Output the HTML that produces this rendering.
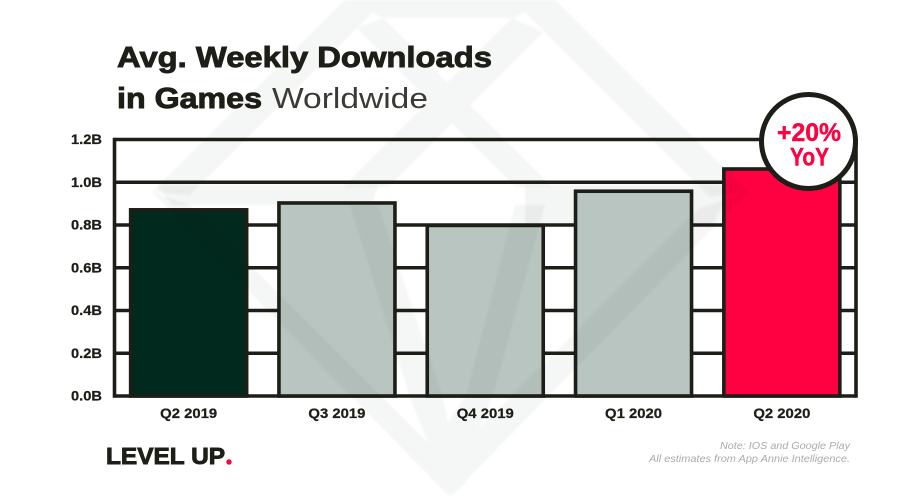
<!DOCTYPE html>
<html lang="en">
<head>
<meta charset="utf-8">
<title>Avg. Weekly Downloads in Games Worldwide</title>
<style>
html,body{margin:0;padding:0;background:#fff;}
#stage{display:block;width:900px;height:500px;background:#fff;font-family:"Liberation Sans",Arial,sans-serif;}
.ink{fill:#1d1e17;}
.heavy{font-weight:700;stroke:#1d1e17;stroke-width:.9px;paint-order:stroke;}
.tick{font-size:13.5px;font-weight:700;fill:#1d1e17;text-anchor:end;stroke:#1d1e17;stroke-width:.25px;}
.cat{font-size:13.5px;font-weight:700;fill:#1d1e17;text-anchor:middle;stroke:#1d1e17;stroke-width:.25px;}
.note{font-size:10.5px;font-style:italic;fill:#a9abaa;text-anchor:end;}
.badge-text{font-size:25px;font-weight:700;fill:#ff0040;text-anchor:middle;stroke:#ff0040;stroke-width:.4px;}
</style>
</head>
<body>
<svg id="stage" xmlns="http://www.w3.org/2000/svg" width="900" height="500" viewBox="0 0 900 500">
  <defs>
    <filter id="soften" x="-5%" y="-5%" width="110%" height="110%"><feGaussianBlur stdDeviation="1"/></filter>
  </defs>
  <g fill="#f4f5f5" filter="url(#soften)">
    <polygon points="157,185 378,185 372,205 172,205"/>
    <polygon points="525,185 735,185 712,225 525,225"/>
  </g>
  <g id="grid"></g>
  <g id="bars"></g>
  <g id="axes"></g>

  <g fill="#f5f6f6" filter="url(#soften)" style="mix-blend-mode:multiply">
    <polygon points="345,0 385,0 190,195 152,192"/>
    <polygon points="555,0 513,0 710,197 748,192"/>
    <polygon points="152,192 190,205 467,482 450,497"/>
    <polygon points="748,192 700,208 433,475 450,497"/>
    <polygon points="345,0 555,0 512,18 383,18"/>
    <polygon points="383,18 552,187 516,187 357,28"/>
    <polygon points="512,18 543,32 388,187 343,187"/>
    <polygon points="350,205 378,205 443,398 448,423 450,497 410,398"/>
    <polygon points="515,205 545,205 493,395 450,497 448,423 467,393"/>
  </g>

  <g>
    <text x="117" y="67" font-size="29" class="ink heavy" textLength="375" lengthAdjust="spacingAndGlyphs">Avg. Weekly Downloads</text>
    <text x="117" y="108" font-size="29" class="ink heavy" textLength="145" lengthAdjust="spacingAndGlyphs">in Games</text>
    <text x="272" y="108" font-size="29" fill="#3a3b35" textLength="156" lengthAdjust="spacingAndGlyphs">Worldwide</text>
  </g>

  <g>
    <circle cx="808.5" cy="141.5" r="47" fill="#fff" stroke="#1d1e17" stroke-width="5"/>
    <text x="809" y="141" class="badge-text" textLength="64" lengthAdjust="spacingAndGlyphs">+20%</text>
    <text x="809.5" y="165.5" class="badge-text" textLength="39" lengthAdjust="spacingAndGlyphs">YoY</text>
  </g>

  <g>
    <text x="106" y="464" font-size="23.5" class="ink heavy" textLength="119" lengthAdjust="spacingAndGlyphs">LEVEL UP</text>
    <circle cx="229" cy="462" r="2.7" fill="#ff0040"/>
  </g>

  <g>
    <text x="850" y="449" class="note" textLength="130" lengthAdjust="spacingAndGlyphs">Note: IOS and Google Play</text>
    <text x="850" y="462" class="note" textLength="201" lengthAdjust="spacingAndGlyphs">All estimates from App Annie Intelligence.</text>
  </g>
</svg>
<script>
const categories = ['Q2 2019', 'Q3 2019', 'Q4 2019', 'Q1 2020', 'Q2 2020'];
const downloads = [0.871, 0.903, 0.798, 0.958, 1.062];
const tickValues = [0, 0.2, 0.4, 0.6, 0.8, 1.0, 1.2];
const tickLabels = ['0.0B', '0.2B', '0.4B', '0.6B', '0.8B', '1.0B', '1.2B'];

const NS = 'http://www.w3.org/2000/svg';
const INK = '#1d1e17';
const plotLeft = 114.5, plotRight = 856, plotBottom = 396, plotTop = 139.5, yMax = 1.2;
const bandWidth = (plotRight - plotLeft) / categories.length;
const barWidth = 116;

function yScale(v) { return plotBottom - (v / yMax) * (plotBottom - plotTop); }
function xCenter(i) { return plotLeft + bandWidth * (i + 0.5); }
function make(tag, attrs) {
  const el = document.createElementNS(NS, tag);
  for (const k in attrs) el.setAttribute(k, attrs[k]);
  return el;
}
function barFill(i) {
  if (i === categories.length - 1) return '#ff0040';
  if (i === 0) return '#02291e';
  return '#b9c5c1';
}

const gridG = document.getElementById('grid');
const axesG = document.getElementById('axes');
const barsG = document.getElementById('bars');

tickValues.forEach(function (v, i) {
  const line = make('line', { x1: plotLeft, x2: plotRight, y1: yScale(v), y2: yScale(v), stroke: INK, 'stroke-width': 3.6 });
  
  
  gridG.appendChild(line);

  const label = make('text', { x: 102, y: yScale(v) + 4.6, class: 'tick', textLength: 31, lengthAdjust: 'spacingAndGlyphs' });
  label.textContent = tickLabels[i];
  
  
  axesG.appendChild(label);
});

const leftAxis = make('line', { x1: plotLeft, x2: plotLeft, y1: plotTop - 1.8, y2: plotBottom + 1.8, stroke: INK, 'stroke-width': 3.6 });


gridG.appendChild(leftAxis);

const rightAxis = make('line', { x1: plotRight, x2: plotRight, y1: plotTop - 1.8, y2: plotBottom + 1.8, stroke: INK, 'stroke-width': 3.6 });


gridG.appendChild(rightAxis);

categories.forEach(function (c, i) {
  const top = yScale(downloads[i]);
  const bar = make('rect', {
    x: xCenter(i) - barWidth / 2, y: top, width: barWidth, height: plotBottom - top,
    fill: barFill(i), stroke: INK, 'stroke-width': 3.6
  });
  
  
  barsG.appendChild(bar);

  const label = make('text', { x: xCenter(i), y: 418, class: 'cat', textLength: 57, lengthAdjust: 'spacingAndGlyphs' });
  label.textContent = c;
  
  
  axesG.appendChild(label);
});
</script>
</body>
</html>
